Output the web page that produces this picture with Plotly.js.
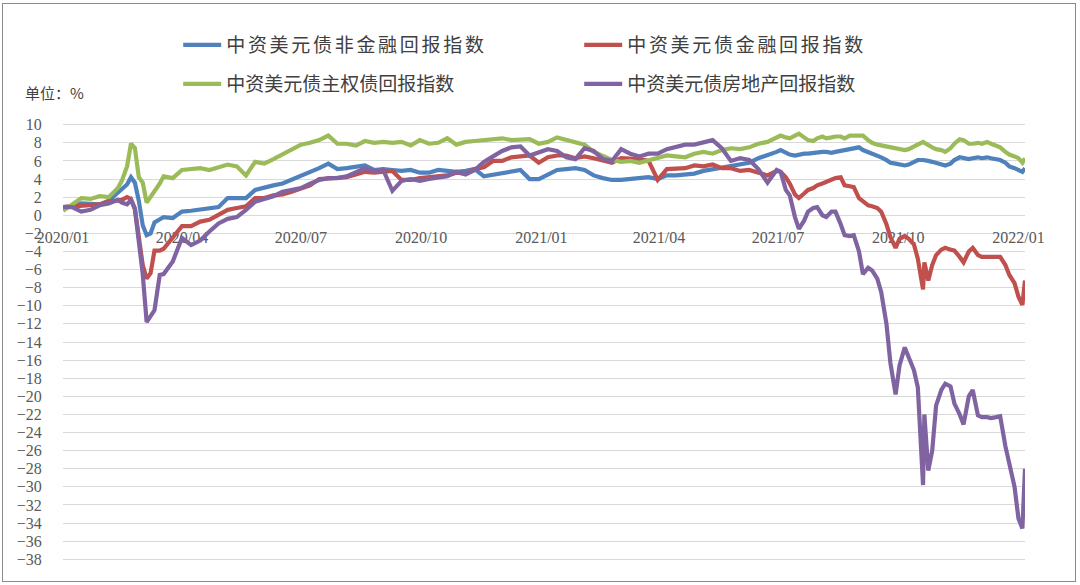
<!DOCTYPE html>
<html>
<head>
<meta charset="utf-8">
<script src="https://cdn.plot.ly/plotly-3.0.1.min.js"></script>
<style>
  html, body { margin: 0; padding: 0; background: #fff; }
  #wrap { position: relative; width: 1080px; height: 585px; }
  #frame { position: absolute; left: 2px; top: 3px; width: 1072px; height: 577px;
           border: 1.5px solid #8a8a8a; pointer-events: none; }
  .legendtext { letter-spacing: 2.7px; }
</style>
</head>
<body>
<div id="wrap">
  <div id="myDiv"></div>
  <div id="frame"></div>
</div>
<script>
// sample days counted from 2020-01-01: weekly, tighter where the lines move fast
var sampleDays = [
  0, 7, 14, 21, 28, 35, 42,
  45, 49, 52, 55, 58, 61, 64, 67, 70, 74, 77,
  84, 91, 98, 105, 112, 119, 126, 133, 140, 147,
  154, 161, 168, 175, 182, 189, 196, 203, 210, 217,
  224, 231, 238, 245, 252, 259, 266, 273, 280, 287,
  294, 301, 308, 315, 322, 329, 336, 343, 350, 357,
  364, 371, 378, 385, 392, 399, 406, 413, 420, 427,
  434, 441, 448, 455, 462, 469, 476, 483, 490, 497,
  504, 511, 518, 525, 532, 539, 546,
  549, 553, 556, 560, 563, 567, 570, 574, 577, 581,
  584, 588, 591, 595, 598, 602, 605, 609, 612, 616,
  619, 623, 626, 630, 633, 637, 640, 644, 647, 651,
  654, 658, 659, 662, 665, 668, 672, 675, 679, 682,
  686, 689, 693, 696, 700, 703, 707, 710, 714, 717,
  721, 724, 728, 731, 734, 736
];

var dates = sampleDays.map(function (d) {
  return new Date(Date.UTC(2020, 0, 1 + d)).toISOString().slice(0, 10);
});

var names = ['中资美元债非金融回报指数', '中资美元债金融回报指数',
             '中资美元债主权债回报指数', '中资美元债房地产回报指数'];
var colors = ['#4F81BD', '#C0504D', '#9BBB59', '#8064A2'];

var nonFinancial = [
  0.9, 1.0, 1.3, 1.3, 1.2, 1.6, 2.5,
  2.9, 3.4, 4.2, 3.6, 1.6, -1.1, -2.2, -2.0, -0.8, -0.4, -0.2,
  -0.3, 0.4, 0.5, 0.6, 0.7, 0.9, 1.9, 1.9, 1.9, 2.8,
  3.1, 3.3, 3.5, 3.9, 4.3, 4.8, 5.2, 5.7, 5.1, 5.2,
  5.3, 5.5, 5.0, 5.1, 5.0, 4.9, 5.0, 4.7, 4.7, 5.0,
  4.9, 4.8, 4.9, 5.1, 4.3, 4.5, 4.7, 4.9, 5.0, 4.0,
  4.0, 4.5, 5.0, 5.1, 5.2, 5.0, 4.4, 4.1, 3.9, 3.9,
  4.0, 4.2, 4.2, 4.0, 4.4, 4.4, 4.5, 4.6, 4.9, 5.1,
  5.3, 5.4, 5.6, 5.8, 6.3, 6.6, 7.0,
  7.2, 6.9, 6.7, 6.6, 6.7, 6.8, 6.8, 6.9, 7.0, 7.0,
  7.0, 6.9, 7.0, 7.1, 7.2, 7.3, 7.3, 7.5, 7.2, 7.0,
  6.8, 6.6, 6.4, 6.1, 5.8, 5.7, 5.6, 5.5, 5.6, 5.9,
  6.1, 6.1, 6.1, 6.0, 5.9, 5.8, 5.6, 5.5, 5.7, 6.1,
  6.4, 6.3, 6.2, 6.3, 6.4, 6.3, 6.4, 6.3, 6.2, 6.1,
  5.8, 5.4, 5.2, 5.0, 4.8, 5.2
];

var financial = [
  0.9, 1.0, 1.1, 1.1, 1.2, 1.5, 1.7,
  1.7, 2.0, 1.8, 0.7, -2.2, -5.5, -7.0, -6.4, -3.9, -3.9, -3.7,
  -2.5, -1.2, -1.2, -0.7, -0.5, 0.1, 0.6, 0.8, 1.0, 1.9,
  1.9, 2.2, 2.3, 2.6, 3.0, 3.3, 4.0, 4.1, 4.1, 4.2,
  4.5, 4.8, 4.7, 4.8, 4.9, 3.9, 3.9, 4.1, 4.2, 4.3,
  4.4, 4.7, 4.6, 5.1, 5.3, 6.0, 6.0, 6.4, 6.5, 6.6,
  5.8, 6.4, 6.6, 6.6, 6.3, 6.5, 6.3, 6.0, 5.8, 6.3,
  6.3, 6.2, 6.0, 3.9, 5.1, 5.2, 5.2, 5.5, 5.4, 5.6,
  5.2, 5.2, 4.9, 5.0, 4.7, 4.4, 4.9,
  4.8, 4.2, 3.5, 2.3, 1.9, 2.4, 2.8, 3.0, 3.3, 3.5,
  3.7, 3.9, 4.1, 4.2, 3.3, 3.2, 3.1, 1.9, 1.5, 1.1,
  1.0, 0.8, 0.4, -1.0, -2.4, -3.6, -2.6, -2.3, -2.6, -3.2,
  -4.8, -8.2, -5.2, -7.2, -5.5, -4.4, -3.8, -3.6, -3.8, -3.9,
  -4.6, -5.2, -4.0, -3.6, -4.4, -4.6, -4.6, -4.6, -4.6, -4.6,
  -5.5, -6.6, -7.5, -9.0, -9.9, -7.2
];

var sovereign = [
  0.5, 1.2, 1.9, 1.8, 2.1, 2.0, 3.0,
  3.8, 5.4, 7.9, 7.4, 4.2, 3.6, 1.4, 2.0, 2.6, 3.5, 4.3,
  4.1, 5.0, 5.1, 5.2, 5.0, 5.3, 5.6, 5.4, 4.4, 5.9,
  5.7, 6.2, 6.7, 7.3, 7.8, 8.0, 8.3, 8.8, 7.9, 7.9,
  7.7, 8.2, 8.0, 8.1, 8.0, 8.1, 7.7, 8.3, 7.9, 8.0,
  8.5, 7.8, 8.1, 8.2, 8.3, 8.3, 8.5, 8.3, 8.4, 8.4,
  7.9, 8.1, 8.6, 8.3, 8.1, 7.8, 7.0, 6.5, 6.1, 5.9,
  6.0, 5.8, 6.1, 6.4, 6.6, 6.5, 6.4, 6.8, 7.0, 6.8,
  7.2, 7.4, 7.3, 7.5, 7.9, 8.1, 8.6,
  8.8, 8.6, 8.5, 8.8, 9.0, 8.6, 8.3, 8.2, 8.5, 8.7,
  8.5, 8.6, 8.7, 8.7, 8.5, 8.8, 8.8, 8.7, 8.8, 8.3,
  8.0, 7.8, 7.7, 7.6, 7.5, 7.4, 7.3, 7.2, 7.3, 7.6,
  7.9, 8.1, 8.0, 7.7, 7.5, 7.3, 7.2, 7.0, 7.4, 7.9,
  8.4, 8.3, 7.9, 7.9, 8.0, 7.9, 8.1, 7.9, 7.6, 7.5,
  7.0, 6.7, 6.5, 6.3, 5.8, 6.3
];

var realEstate = [
  0.9, 0.9, 0.4, 0.6, 1.1, 1.3, 1.7,
  1.4, 1.2, 1.7, 0.7, -2.6, -6.5, -11.8, -11.2, -10.5, -6.6, -6.5,
  -5.1, -2.5, -3.3, -2.8, -1.8, -0.9, -0.4, -0.2, 0.6, 1.5,
  1.8, 2.1, 2.6, 2.8, 3.0, 3.5, 3.9, 4.1, 4.1, 4.3,
  4.8, 5.2, 4.9, 5.0, 2.7, 3.8, 4.0, 3.8, 4.0, 4.1,
  4.3, 4.8, 4.5, 5.0, 5.9, 6.5, 7.1, 7.5, 7.6, 6.6,
  7.0, 7.3, 7.1, 6.4, 6.2, 7.4, 7.1, 6.2, 6.0, 7.3,
  6.8, 6.5, 6.8, 6.8, 7.3, 7.6, 7.8, 7.8, 8.0, 8.3,
  7.4, 6.0, 6.3, 6.1, 5.1, 3.6, 5.0,
  4.8, 2.8, 2.2, -0.2, -1.5, -0.6, 0.4, 0.8, 0.9, 0.0,
  -0.2, 0.4, 0.4, -1.0, -2.2, -2.3, -2.2, -4.0, -6.5, -5.8,
  -6.1, -7.0, -8.5, -12.0, -16.3, -19.8, -16.6, -14.6, -15.8, -17.1,
  -19.0, -29.8, -22.0, -28.2, -26.0, -21.0, -19.3, -18.6, -18.9, -20.8,
  -22.0, -23.1, -20.0, -19.3, -22.1, -22.3, -22.3, -22.4, -22.3, -22.2,
  -25.5, -27.3, -30.0, -33.5, -34.6, -28.0
];

var series = [nonFinancial, financial, sovereign, realEstate];
// first row of the legend holds the first two series, second row the rest
var legendOf = ['legend', 'legend', 'legend2', 'legend2'];

var data = series.map(function (vals, i) {
  return {
    x: dates,
    y: vals,
    name: names[i],
    type: 'scatter',
    mode: 'lines',
    line: {color: colors[i], width: 4.2},
    legend: legendOf[i],
    hoverinfo: 'x+y+name'
  };
});

var legendBase = {
  orientation: 'h',
  xref: 'container', yref: 'container',
  x: 0.165, xanchor: 'left', yanchor: 'middle',
  entrywidth: 348, entrywidthmode: 'pixels',
  itemwidth: 38,
  bgcolor: 'rgba(0,0,0,0)',
  font: {family: 'Noto Sans CJK SC', size: 19, color: '#404040'}
};

var layout = {
  width: 1080,
  height: 585,
  margin: {l: 63, r: 55, t: 122, b: 23},
  paper_bgcolor: '#fff',
  plot_bgcolor: '#fff',
  font: {family: 'Liberation Serif, serif', size: 16, color: '#595959'},
  showlegend: true,
  legend: Object.assign({}, legendBase, {y: 1 - 45 / 585}),
  legend2: Object.assign({}, legendBase, {y: 1 - 84 / 585}),
  xaxis: {
    type: 'date',
    range: ['2020-01-01', '2022-01-06'],
    tick0: '2020-01-01',
    dtick: 'M3',
    tickformat: '%Y/%m',
    showgrid: false,
    zeroline: false,
    showline: false,
    anchor: 'free',
    position: 38.3 / 48.6,
    ticks: 'outside',
    ticklen: 8,
    tickcolor: 'rgba(0,0,0,0)',
    layer: 'below traces',
    tickfont: {family: 'Liberation Serif, serif', size: 16, color: '#595959'}
  },
  yaxis: {
    range: [-38.3, 10.3],
    tick0: 0,
    dtick: 2,
    showgrid: true,
    gridcolor: '#d9d9d9',
    gridwidth: 1,
    zeroline: false,
    showline: false,
    ticks: 'outside',
    ticklen: 17,
    tickcolor: 'rgba(0,0,0,0)',
    tickfont: {family: 'Liberation Serif, serif', size: 16, color: '#595959'}
  },
  annotations: [{
    text: '单位：%',
    xref: 'paper', yref: 'paper',
    x: (23 - 63) / 962, y: (562 - 92) / 440,
    xanchor: 'left', yanchor: 'middle',
    showarrow: false,
    font: {family: 'Noto Sans CJK SC', size: 15, color: '#404040'}
  }]
};

Plotly.newPlot('myDiv', data, layout, {staticPlot: true, displayModeBar: false});
</script>
</body>
</html>
